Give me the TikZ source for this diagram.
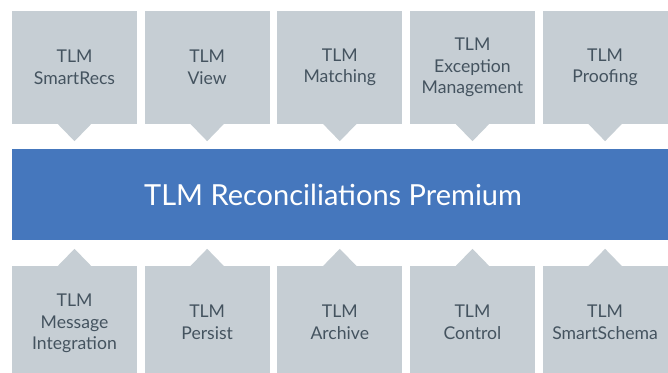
\documentclass[tikz,border=0pt]{standalone}
\usepackage{fontspec}
\setmainfont{Lato}
\usetikzlibrary{positioning}
\definecolor{modgray}{HTML}{C6CED4}
\definecolor{modtext}{HTML}{44535F}
\definecolor{barblue}{HTML}{4577BD}
\begin{document}
\begin{tikzpicture}[x=1pt, y=1pt,
	mod/.style={rectangle, fill=modgray, text=modtext, minimum width=125pt, inner sep=0pt, align=center, font=\fontsize{17.6}{21.5}\selectfont},
	upper/.style={mod, minimum height=113pt},
	lower/.style={mod, minimum height=112pt, text depth=0pt},
	pointer/.style={fill=modgray}]
\useasboundingbox (0,0) rectangle (668,372);
\node [rectangle, fill=barblue, minimum width=658pt, minimum height=91pt] (bar) at (341,177.5) {};
\node [text=white, font=\fontsize{29}{34}\selectfont, xshift=-8pt] (title) at (bar.center) {TLM Reconciliations Premium};
% top row
\node [upper] (smartrecs) at (74.5,304.5) {TLM\\SmartRecs};
\node [upper, right=7.25pt of smartrecs] (view) {TLM\\View};
\node [upper, right=7.25pt of view] (matching) {TLM\\Matching};
\node [upper, right=7.25pt of matching] (exception) {TLM\\Exception\\Management};
\node [upper, right=7.25pt of exception] (proofing) {TLM\\Proofing};
% bottom row
\node [lower] (message) at (74.5,50) {TLM\\Message\\Integration};
\node [lower, right=7.25pt of message] (persist) {TLM\\Persist};
\node [lower, right=7.25pt of persist] (archive) {TLM\\Archive};
\node [lower, right=7.25pt of archive] (control) {TLM\\Control};
\node [lower, right=7.25pt of control] (smartschema) {TLM\\SmartSchema};
% pointers
\foreach \n in {smartrecs, view, matching, exception, proofing}
	\fill [pointer] (\n.south) +(-17,0.5) -- +(0,-17) -- +(17,0.5) -- cycle;
\foreach \n in {message, persist, archive, control, smartschema}
	\fill [pointer] (\n.north) +(-17,-0.5) -- +(0,17) -- +(17,-0.5) -- cycle;
\end{tikzpicture}
\end{document}
